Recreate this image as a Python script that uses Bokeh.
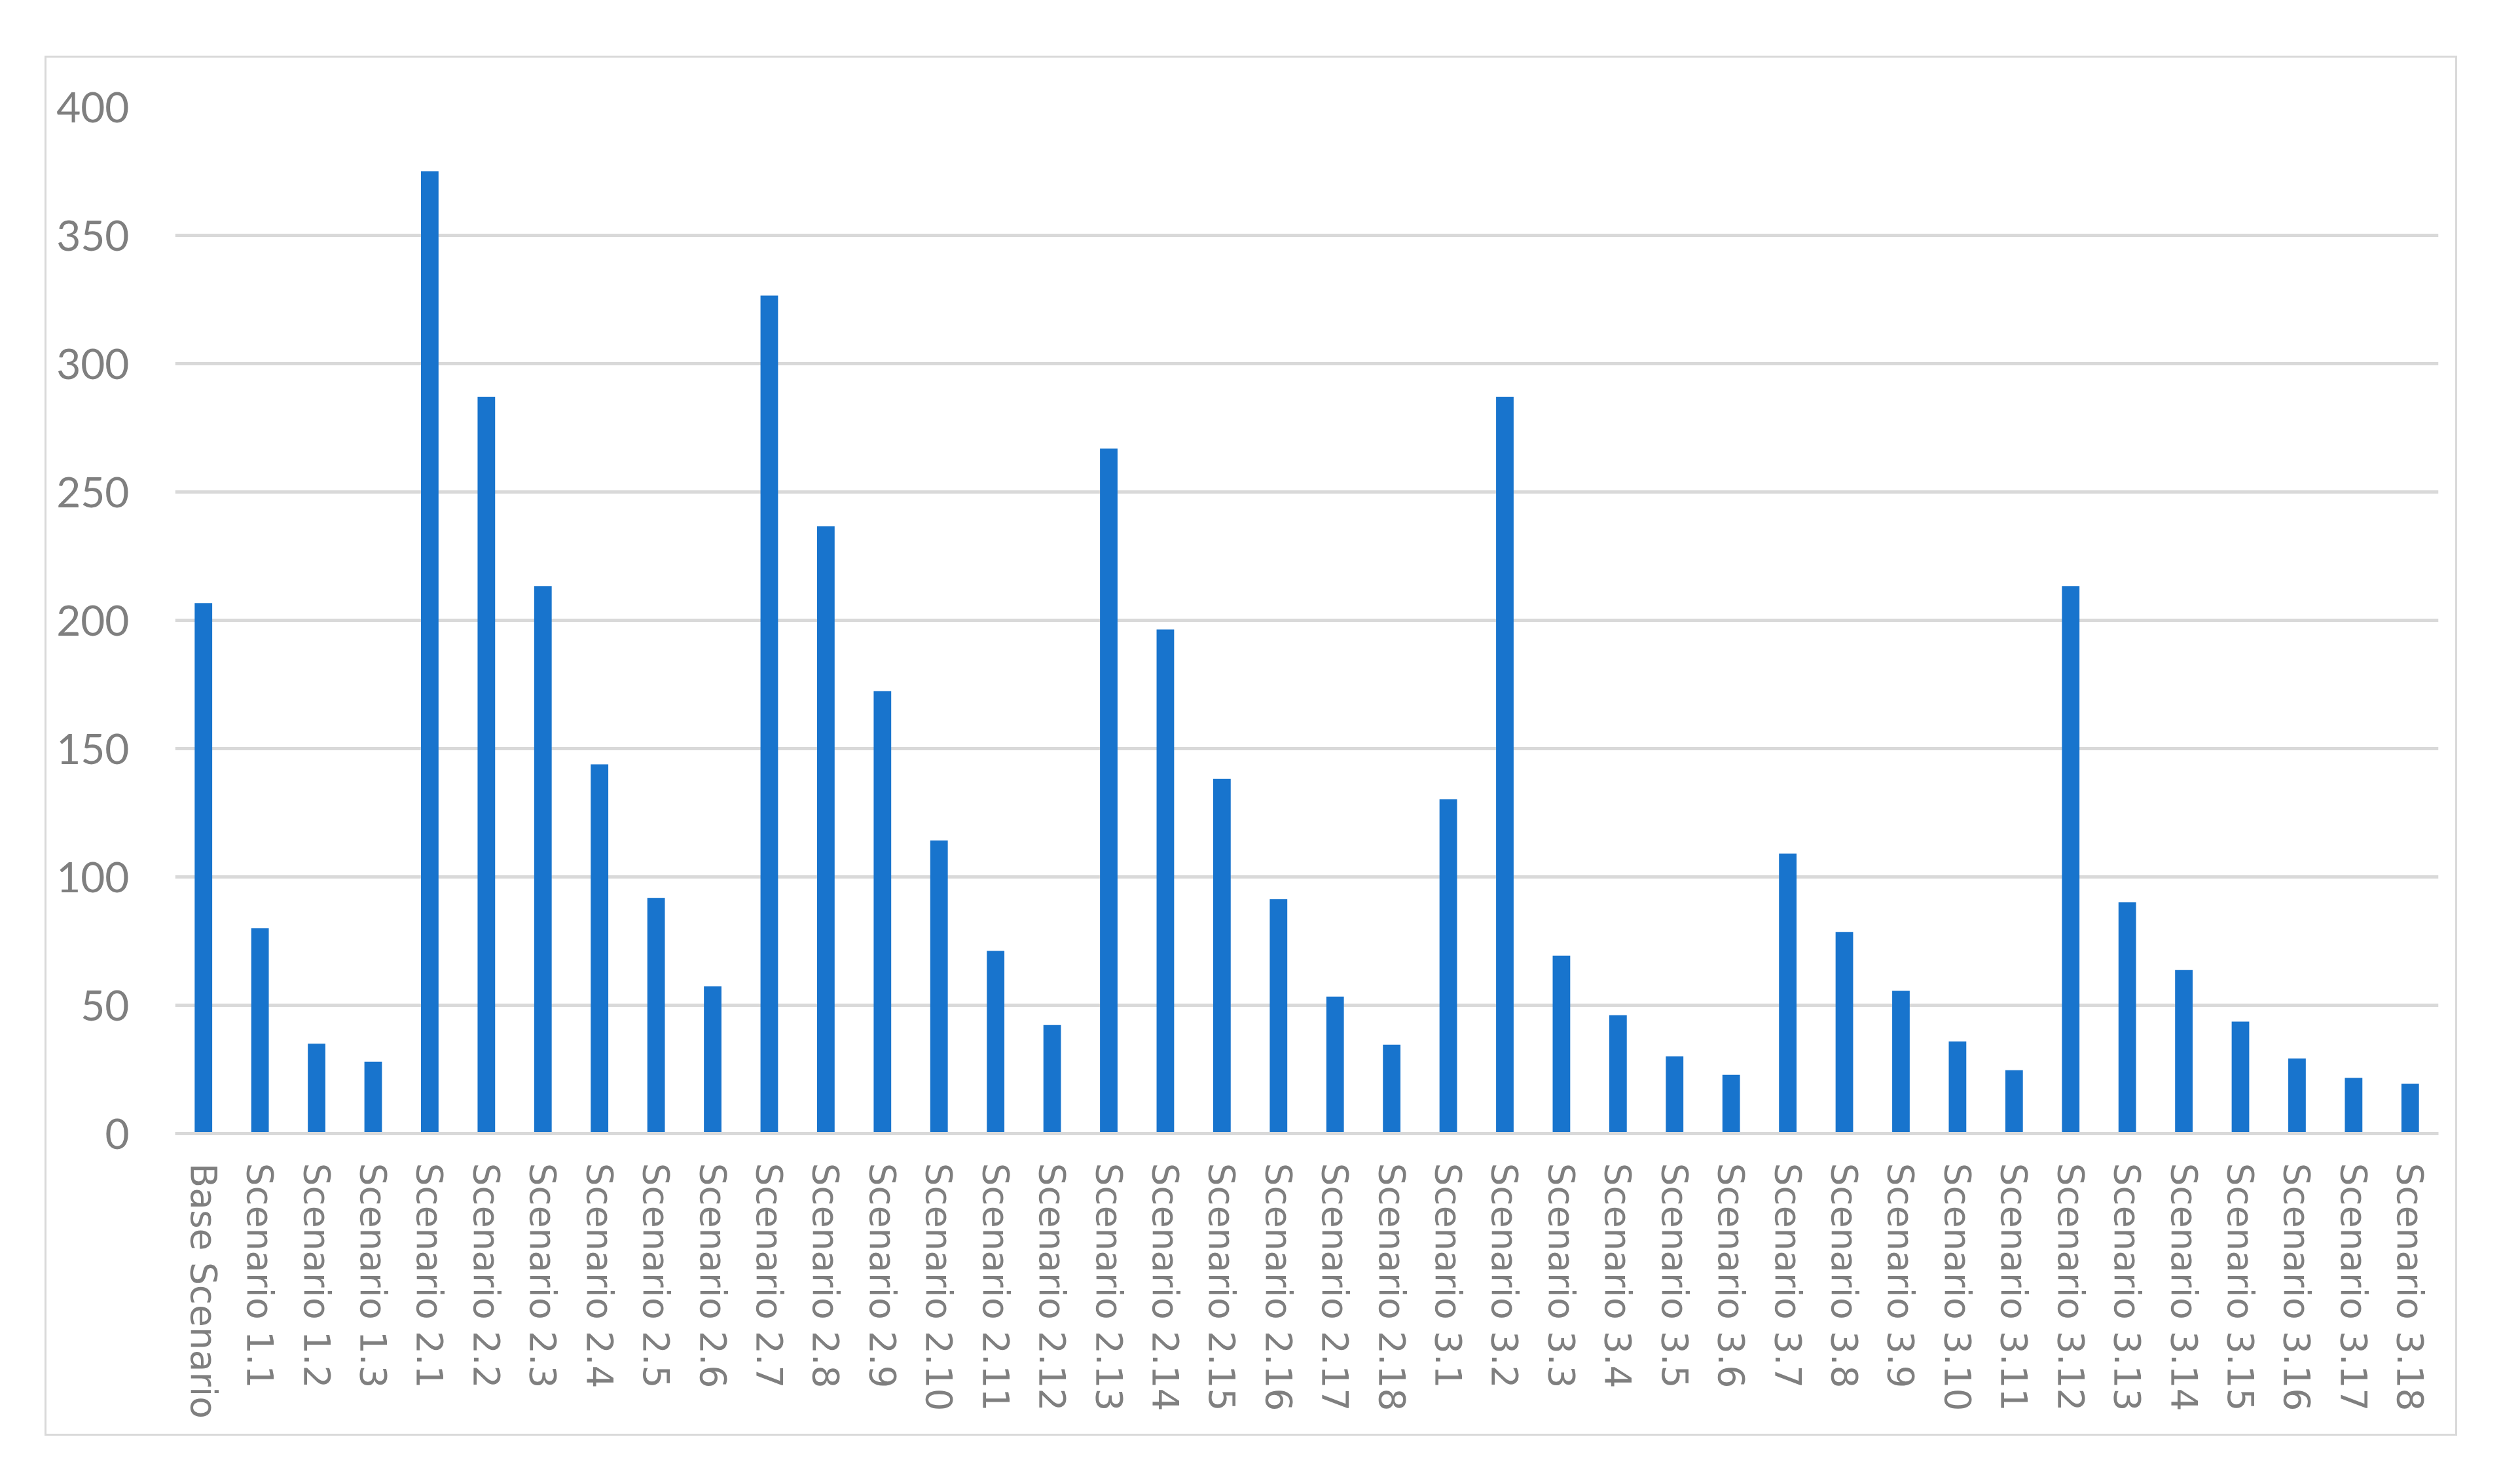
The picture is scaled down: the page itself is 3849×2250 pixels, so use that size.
from bokeh.plotting import figure
from bokeh.models import Range1d, FactorRange, FixedTicker, Spacer, ColumnDataSource
from bokeh.layouts import column, row
from bokeh.embed import file_html
from bokeh.resources import INLINE

categories = [
    "Base Scenario", "Scenario 1.1", "Scenario 1.2", "Scenario 1.3",
    "Scenario 2.1", "Scenario 2.2", "Scenario 2.3", "Scenario 2.4", "Scenario 2.5",
    "Scenario 2.6", "Scenario 2.7", "Scenario 2.8", "Scenario 2.9", "Scenario 2.10",
    "Scenario 2.11", "Scenario 2.12", "Scenario 2.13", "Scenario 2.14", "Scenario 2.15",
    "Scenario 2.16", "Scenario 2.17", "Scenario 2.18",
    "Scenario 3.1", "Scenario 3.2", "Scenario 3.3", "Scenario 3.4", "Scenario 3.5",
    "Scenario 3.6", "Scenario 3.7", "Scenario 3.8", "Scenario 3.9", "Scenario 3.10",
    "Scenario 3.11", "Scenario 3.12", "Scenario 3.13", "Scenario 3.14", "Scenario 3.15",
    "Scenario 3.16", "Scenario 3.17", "Scenario 3.18",
]

values = [
    206.7, 80.0, 35.0, 28.0,
    375.0, 287.1, 213.3, 143.9, 91.8, 57.4, 326.5, 236.6, 172.4, 114.2,
    71.2, 42.3, 266.9, 196.4, 138.2, 91.4, 53.3, 34.6,
    130.2, 287.1, 69.3, 46.1, 30.1, 22.9, 109.1, 78.5, 55.6, 35.9,
    24.7, 213.3, 90.1, 63.7, 43.6, 29.3, 21.7, 19.4,
]

y_ticks = [0, 50, 100, 150, 200, 250, 300, 350, 400]

BAR = "#1874CD"
GRID = "#D9D9D9"
TEXT = "#7F7F7F"

source = ColumnDataSource(data=dict(cat=categories, val=values))

p = figure(
    width=3679, height=2102,
    x_range=FactorRange(factors=categories, range_padding=0),
    y_range=Range1d(0, 400),
    output_backend="svg", toolbar_location=None,
    min_border_left=196, min_border_right=26, min_border_top=75, min_border_bottom=459,
)
p.styles = {"outline": "3px solid #D9D9D9"}

p.vbar(x="cat", top="val", width=0.31, source=source, fill_color=BAR, line_color=None)

p.outline_line_color = None
p.background_fill_color = "white"
p.border_fill_color = "white"

p.xgrid.grid_line_color = None
p.ygrid.grid_line_color = GRID
p.ygrid.grid_line_width = 5
p.yaxis.ticker = FixedTicker(ticks=y_ticks)

p.yaxis.axis_line_color = None
p.yaxis.major_tick_line_color = None
p.yaxis.minor_tick_line_color = None
p.yaxis.major_tick_out = 0
p.yaxis.major_tick_in = 0
p.yaxis.major_label_standoff = 70
p.yaxis.major_label_text_font = "Lato"
p.yaxis.major_label_text_font_size = "64px"
p.yaxis.major_label_text_color = TEXT

p.xaxis.axis_line_color = GRID
p.xaxis.axis_line_width = 5
p.xaxis.major_tick_line_color = None
p.xaxis.minor_tick_line_color = None
p.xaxis.major_tick_out = 0
p.xaxis.major_tick_in = 0
p.xaxis.major_label_standoff = 45
p.xaxis.major_label_orientation = "vertical"
p.xaxis.major_label_text_font = "DejaVu Sans"
p.xaxis.major_label_text_font_size = "55px"
p.xaxis.major_label_text_color = TEXT

layout = column(Spacer(height=88), row(Spacer(width=71), p))

open("out.html", "w").write(file_html(layout, INLINE))
